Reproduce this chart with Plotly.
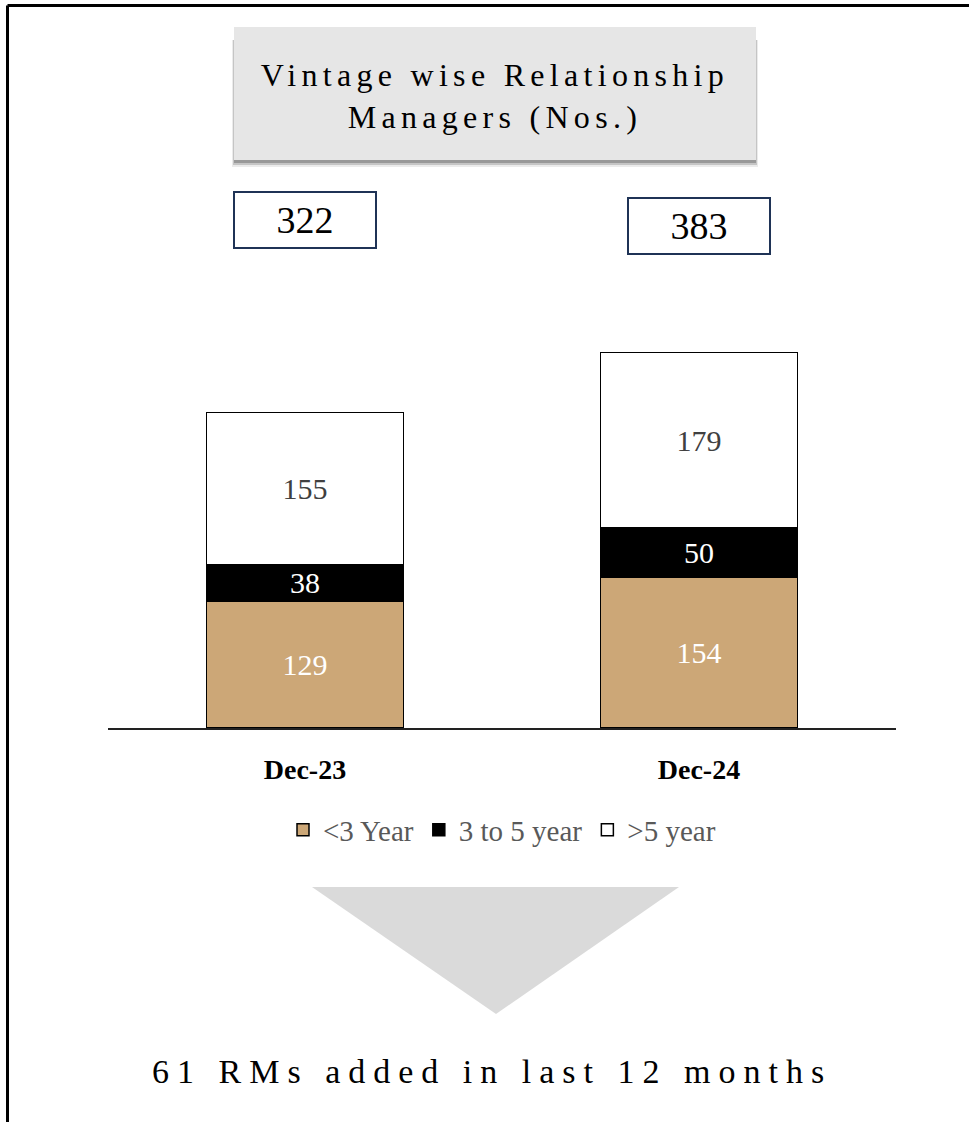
import plotly.graph_objects as go

# data
periods = ["Dec-23", "Dec-24"]
series_names = ["<3 Year", "3 to 5 year", ">5 year"]
under_3 = [129, 154]
three_to_5 = [38, 50]
over_5 = [155, 179]

headline = "Vintage wise Relationship<br>Managers (Nos.)"
footer = "61 RMs added in last 12 months"

SERIF = "Liberation Serif"
TAN = "#CCA777"
NAVY = "#1F3356"

W, H = 969, 1122
L, R, T, B = 108, 73, 336, 394


def px_x(p):
    return (p - L) / (W - L - R)


def px_y(p):
    return (H - B - p) / (H - T - B)


totals = [a + b + c for a, b, c in zip(under_3, three_to_5, over_5)]

fig = go.Figure()
for name, vals, fill, txt in [
    (series_names[0], under_3, TAN, "white"),
    (series_names[1], three_to_5, "black", "white"),
    (series_names[2], over_5, "white", "#404040"),
]:
    fig.add_trace(go.Bar(
        name=name, x=periods, y=vals,
        marker=dict(color=fill, line=dict(color="black", width=1.5)),
        text=vals, textposition="inside", insidetextanchor="middle",
        textangle=0, constraintext="none",
        textfont=dict(family=SERIF, size=30, color=txt),
    ))

# title box with soft shadow underneath
for dy, grow, alpha in [(7, 2, 0.08), (5, 1, 0.16), (3, 0, 0.22)]:
    fig.add_shape(type="rect", xref="paper", yref="paper",
                  x0=px_x(234 - grow), x1=px_x(756 + grow),
                  y0=px_y(160 + dy), y1=px_y(40),
                  fillcolor=f"rgba(0,0,0,{alpha})", line_width=0, layer="below")
fig.add_shape(type="rect", xref="paper", yref="paper",
              x0=px_x(234), x1=px_x(756), y0=px_y(160), y1=px_y(27),
              fillcolor="#E6E6E6", line_width=0, layer="below")
fig.add_annotation(text=headline, xref="paper", yref="paper",
                   x=px_x(495), y=px_y(96), xanchor="center", yanchor="middle",
                   showarrow=False,
                   font=dict(family=SERIF, size=32, color="black"))

# totals in boxes
for per, tot, cy in zip(periods, totals, [220, 226]):
    fig.add_annotation(text=str(tot), x=per, xref="x", yref="paper", y=px_y(cy),
                       xanchor="center", yanchor="middle",
                       showarrow=False, width=140, height=54, borderpad=0,
                       bordercolor=NAVY, borderwidth=2, bgcolor="white",
                       font=dict(family=SERIF, size=38, color="black"))

# down arrow
fig.add_shape(type="path", xref="paper", yref="paper",
              path=(f"M {px_x(312)},{px_y(887)} L {px_x(679)},{px_y(887)} "
                    f"L {px_x(496)},{px_y(1014)} Z"),
              fillcolor="#DADADA", line_width=0)

fig.add_annotation(text=footer, xref="paper", yref="paper",
                   x=px_x(492), y=px_y(1071), xanchor="center", yanchor="middle",
                   showarrow=False,
                   font=dict(family=SERIF, size=34, color="black"))

# outer frame (top and left only)
fig.add_shape(type="line", xref="paper", yref="paper",
              x0=px_x(7.5), x1=px_x(975), y0=px_y(5.5), y1=px_y(5.5),
              line=dict(color="black", width=3))
fig.add_shape(type="line", xref="paper", yref="paper",
              x0=px_x(7.5), x1=px_x(7.5), y0=px_y(5.5), y1=px_y(1130),
              line=dict(color="black", width=3))

fig.update_layout(
    width=W, height=H, autosize=False,
    margin=dict(l=L, r=R, t=T, b=B),
    barmode="stack", bargap=0.5,
    paper_bgcolor="white", plot_bgcolor="white",
    showlegend=True,
    legend=dict(orientation="h", x=0.5, xanchor="center", y=px_y(830), yanchor="middle",
                font=dict(family=SERIF, size=29, color="#595959"),
                traceorder="normal", itemwidth=30),
    xaxis=dict(range=[-0.5, 1.5], showline=True, linecolor="#222", linewidth=1.5,
               ticks="", showgrid=False, zeroline=False, ticklabelstandoff=16,
               tickfont=dict(family=SERIF, size=28, color="black", weight="bold")),
    yaxis=dict(range=[0, 400], visible=False),
)

spacing_js = """
document.body.style.margin = '0';
var gd = document.getElementById('{plot_id}');
gd.querySelectorAll('text.annotation-text').forEach(function(t){
  if (t.textContent.indexOf('RMs') >= 0) { t.style.letterSpacing = '8px'; }
  if (t.textContent.indexOf('Vintage') >= 0) { t.style.letterSpacing = '5.3px'; }
});
"""

fig.write_html("out.html", post_script=spacing_js, config={"displayModeBar": False})
